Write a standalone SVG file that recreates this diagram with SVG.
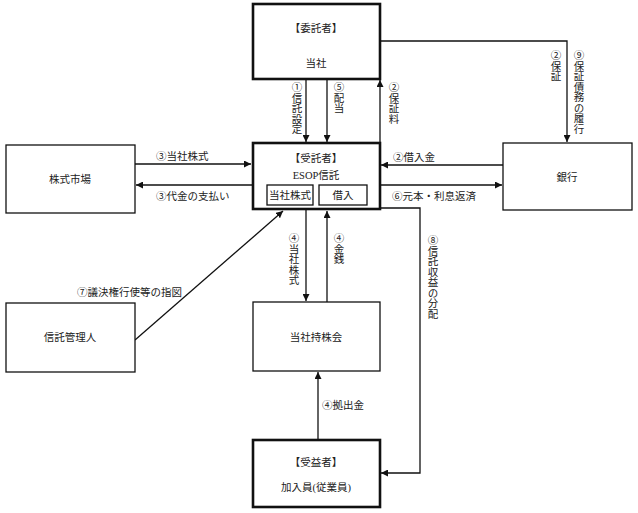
<svg xmlns="http://www.w3.org/2000/svg" width="638" height="513" viewBox="0 0 638 513">
<style>
text{font-family:"Liberation Serif","Noto Sans CJK JP",serif;font-size:10.5px;fill:#222}
.c{text-anchor:middle}
.v{writing-mode:vertical-rl;text-orientation:upright;font-size:10.5px}
.thin{fill:#fff;stroke:#111;stroke-width:1.3}
.thick{fill:#fff;stroke:#111;stroke-width:2.6}
.ln{fill:none;stroke:#111;stroke-width:1.3}
</style>
<defs>
<marker id="ah" viewBox="0 0 10 10" refX="10" refY="5" markerWidth="7" markerHeight="7" markerUnits="userSpaceOnUse" orient="auto">
<path d="M0,0L10,5L0,10z" fill="#111"/>
</marker>
</defs>
<g id="connectors">
<path class="ln" d="M380,41H567V142" marker-end="url(#ah)"/>
<path class="ln" d="M380,143V80" marker-end="url(#ah)"/>
<path class="ln" d="M306,80V142" marker-end="url(#ah)"/>
<path class="ln" d="M327,80V142" marker-end="url(#ah)"/>
<path class="ln" d="M503,165H381" marker-end="url(#ah)"/>
<path class="ln" d="M380,185H502" marker-end="url(#ah)"/>
<path class="ln" d="M135,164H251" marker-end="url(#ah)"/>
<path class="ln" d="M252,185H136" marker-end="url(#ah)"/>
<path class="ln" d="M135,340L283,211" marker-end="url(#ah)"/>
<path class="ln" d="M306,210V301" marker-end="url(#ah)"/>
<path class="ln" d="M327,302V211" marker-end="url(#ah)"/>
<path class="ln" d="M380,208H420V473H381" marker-end="url(#ah)"/>
<path class="ln" d="M318,440V372" marker-end="url(#ah)"/>
<text x="296" y="82" class="v">①信託設定</text>
<text x="338" y="82" class="v">⑤配当</text>
<text x="393" y="82" class="v">②保証料</text>
<text x="555" y="50" class="v">②保証</text>
<text x="578" y="50" class="v">⑨保証債務の履行</text>
<text x="393" y="161">②借入金</text>
<text x="392" y="200">⑥元本・利息返済</text>
<text x="156" y="160">③当社株式</text>
<text x="156" y="200">③代金の支払い</text>
<text x="77" y="296">⑦議決権行使等の指図</text>
<text x="293" y="233" class="v">④当社株式</text>
<text x="338" y="233" class="v">④金銭</text>
<text x="432" y="235" class="v">⑧信託収益の分配</text>
<text x="322" y="409">④拠出金</text>
</g>
<g id="itakusha">
<rect class="thick" x="253" y="4" width="127" height="75"/>
<text x="316" y="32" class="c">【委託者】</text>
<text x="316" y="67" class="c">当社</text>
</g>
<g id="esop">
<rect class="thick" x="253" y="143" width="127" height="66"/>
<text x="316" y="162" class="c">【受託者】</text>
<text x="316" y="179" class="c">ESOP信託</text>
<rect class="thin" x="267" y="185" width="46" height="20" stroke-width="1.6"/>
<text x="290" y="199" class="c">当社株式</text>
<rect class="thin" x="319" y="185" width="48" height="20" stroke-width="1.6"/>
<text x="343" y="199" class="c">借入</text>
</g>
<g id="bank">
<rect class="thin" x="503" y="143" width="129" height="67"/>
<text x="567" y="181" class="c">銀行</text>
</g>
<g id="market">
<rect class="thin" x="6" y="145" width="129" height="68"/>
<text x="70" y="183" class="c">株式市場</text>
</g>
<g id="kanrinin">
<rect class="thin" x="6" y="303" width="129" height="69"/>
<text x="70" y="341" class="c">信託管理人</text>
</g>
<g id="mochikabukai">
<rect class="thin" x="253" y="302" width="127" height="69"/>
<text x="316" y="341" class="c">当社持株会</text>
</g>
<g id="jueki">
<rect class="thick" x="253" y="440" width="127" height="67"/>
<text x="316" y="466" class="c">【受益者】</text>
<text x="316" y="491" class="c">加入員(従業員)</text>
</g>
</svg>
